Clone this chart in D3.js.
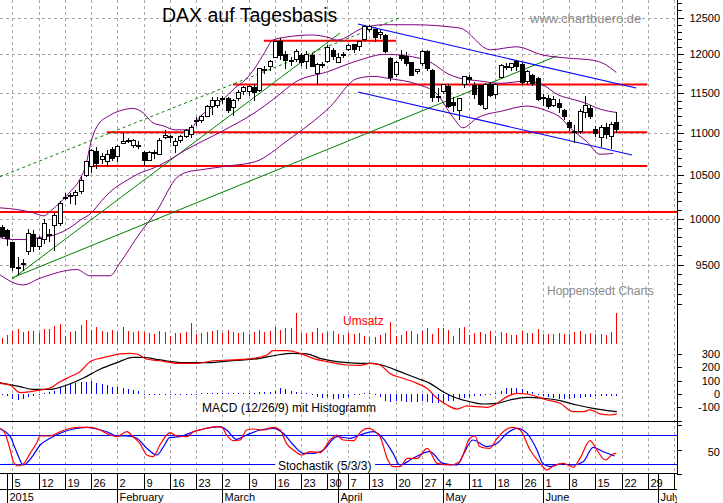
<!DOCTYPE html>
<html><head><meta charset="utf-8"><title>DAX auf Tagesbasis</title>
<script src="https://cdn.jsdelivr.net/npm/d3@7/dist/d3.min.js"></script>
<style>html,body{margin:0;padding:0;background:#fff}svg{display:block}text{font-family:"Liberation Sans",Arial,Helvetica,sans-serif}</style>
</head><body>
<svg id="chart" width="723" height="503"></svg>
<script>
// ---------- DATA (index i: 0 = 2 Jan 2015, -1 = 30 Dec 2014) ----------
const holidays = ['2014-12-31','2015-01-01','2015-04-03','2015-04-06','2015-05-01','2015-05-25'];
const monthNames = ['2015','February','March','April','May','June','July'];
const priceTicks = [9500,10000,10500,11000,11500,12000,12500];
const macdTicks = [-100,0,100,200,300];
const stochTicks = [50];

const open = [9900,9870,9736,9475,9500,9640,9820,9700,9770,9825,
 9920,9950,10240,10250,10265,10300,10495,10590,10770,10680,
 10650,10800,10710,10870,10905,10840,10850,10760,10670,10760,
 10740,10945,10950,10840,10910,10950,10980,11140,11150,11200,
 11330,11335,11420,11430,11310,11430,11510,11510,11570,11530,
 11800,11840,11960,12170,12000,11920,11930,11980,11900,11990,
 11750,11870,11900,12050,11890,11990,12060,12130,12100,12200,
 12330,12330,12260,12250,11950,11730,11990,11970,11890,11770,
 11880,12040,11790,11450,11510,11580,11380,11270,11600,11700,
 11590,11590,11305,11600,11480,11700,11840,11830,11900,11860,
 11640,11720,11680,11420,11430,11340,11360,11270,11130,11020,
 11010,11250,11300,11040,10940,11060,10950,11120];
const high = [9925,9890,9745,9580,9560,9880,9870,9810,9990,9880,
 10060,10200,10290,10290,10320,10480,10660,10800,10830,10760,
 10790,10830,10850,11000,10930,10920,10900,10780,10780,10790,
 10930,11030,10970,10930,10970,11050,11090,11190,11220,11340,
 11450,11450,11460,11450,11420,11530,11580,11600,11610,11820,
 11840,11920,12180,12220,12045,11960,12070,12020,12040,12020,
 11880,11900,12120,12080,12020,12030,12140,12140,12180,12380,
 12390,12340,12330,12270,11970,11910,12060,12030,11900,11810,
 12060,12060,11810,11560,11610,11610,11450,11420,11720,11730,
 11640,11600,11620,11640,11620,11870,11880,11890,11930,11880,
 11790,11740,11700,11480,11470,11460,11420,11290,11150,11100,
 11290,11460,11340,11080,11100,11120,11130,11260];
const low = [9790,9700,9440,9390,9440,9600,9640,9660,9720,9740,
 9650,9920,10210,10160,10150,10280,10470,10520,10560,10630,
 10600,10660,10650,10860,10880,10820,10800,10600,10660,10680,
 10730,10920,10880,10760,10880,10930,10940,11080,11120,11190,
 11220,11300,11350,11240,11200,11400,11470,11460,11400,11510,
 11740,11780,11950,11930,11800,11850,11900,11850,11800,11830,
 11600,11820,11880,11930,11880,11950,12050,12020,12050,12180,
 12300,12170,12200,12020,11650,11700,11910,11850,11710,11740,
 11850,11780,11380,11380,11480,11300,11260,11150,11560,11620,
 11420,11330,11280,11440,11420,11680,11790,11780,11780,11600,
 11600,11590,11400,11330,11290,11320,11240,11150,11020,10880,
 10990,11180,11170,10950,10830,10920,10800,11000];
const close = [9806,9780,9473,9469,9518,9837,9700,9781,9941,9818,
 10032,10167,10242,10257,10299,10435,10649,10790,10630,10710,
 10740,10690,10830,10890,10900,10910,10845,10670,10760,10755,
 10905,10960,10940,10890,10950,11030,11060,11150,11205,11330,
 11400,11405,11430,11280,11395,11504,11560,11585,11500,11806,
 11799,11901,12167,11990,11923,11900,12039,11896,11996,11843,
 11865,11868,12086,11966,11960,12001,12124,12060,12166,12375,
 12380,12228,12300,12034,11689,11891,11950,11875,11720,11800,
 12039,11811,11432,11454,11600,11327,11340,11420,11709,11673,
 11472,11351,11610,11460,11610,11853,11830,11880,11840,11625,
 11771,11621,11413,11436,11328,11419,11310,11197,11065,11001,
 11265,11333,11197,10985,11060,10978,11100,11040];
const volume = [6,9,13,15,12,13,13,11,15,15,18,20,8,12,13,19,24,14,17,13,
 12,14,12,17,13,12,13,12,11,10,13,12,8,11,11,12,21,10,11,12,
 13,14,11,14,12,11,12,10,12,14,12,13,17,14,16,16,31,11,11,12,
 16,11,12,13,10,9,11,10,11,8,7,7,9,11,22,8,9,13,13,10,
 13,16,10,16,16,14,8,16,17,9,11,12,10,13,8,12,11,9,9,13,
 11,11,15,10,10,10,11,10,10,12,13,10,11,10,10,9,12,31];
const histogram = [-4,-15,-38,-45,-38,-23,-15,-5,2,13,
 25,50,68,75,80,88,88,95,83,75,
 68,55,50,45,38,30,20,-5,-8,-10,
 -8,-6,-5,-5,-5,-5,-3,-2,0,3,
 5,8,10,8,8,10,10,10,8,15,
 15,18,25,45,38,25,17,10,4,-8,
 -25,-30,-26,-34,-38,-30,-20,-10,-4,0,
 0,-2,-25,-50,-62,-55,-55,-60,-60,-60,
 -56,-60,-64,-64,-60,-55,-50,-38,-32,-25,
 -17,-13,-8,-4,8,25,45,45,43,38,
 25,13,-5,-15,-23,-30,-38,-38,-38,-30,
 -30,-25,-25,-17,-15,-13,-13,-13];

// Bollinger bands (day index, value)
const bbUpperDays = [-1.34,2,5,7,8.2,10,12,14,15,16,17.1,19.6,22,24,26,27.8,29.7,32,34.5,37,41,43.4,45.3,47.2,49,50.6,53.5,58,61.5,62.8,67.8,71.6,77.3,86.2,92,97,102,106.6,111.6,113.5,116];
const bbUpper = [10120,10100,10065,10030,10080,10175,10300,10460,10610,10890,11075,11215,11280,11300,11240,11120,11085,11035,11035,11215,11405,11560,11660,11820,12020,12190,12235,12260,12220,12190,12355,12400,12400,12355,12060,12100,11990,11950,11920,11880,11760];
const bbMidDays = [-1.34,1,4,6,9,12,14,16,18,20,23,25,28,30,34,41,47,51,55,61,67,72,76,81,84,86,90,94,99,102,105,108,110,113,116];
const bbMid = [9790,9770,9770,9790,9820,9900,9985,10060,10200,10320,10440,10510,10580,10640,10790,11020,11240,11430,11640,11770,11920,12000,11980,11880,11740,11690,11650,11620,11650,11600,11470,11410,11370,11290,11250];
const bbLowerDays = [-1.34,3,6.3,13.3,15.8,19.6,21.5,25.3,28.6,32.4,34.3,36.7,41.9,47.2,53.5,61.5,66.6,69.7,72.9,78,81.9,84.9,86.8,89.5,94.4,99,102.8,105.3,107.2,110.4,112.9,115.4];
const bbLower = [9395,9290,9360,9450,9385,9385,9520,9840,10095,10470,10530,10555,10600,10650,10910,11320,11680,11710,11680,11610,11480,11190,11060,11180,11270,11330,11270,11190,11060,10890,10740,10750];

// MACD (red) and signal (black)
const macdDays = [-1.34,0.56,2.47,4.37,6.27,8.18,10.08,11.99,13.89,15.79,17.7,19.6,21.51,23.41,24.75,26.64,29.12,32.36,36.17,39.21,43.02,46.83,49.5,50.64,53.32,55.79,58.26,60.93,64.73,67.2,69.1,71,72.9,75.4,78.06,79.97,81.87,83.77,85.67,87.58,89.48,91.39,93.29,95.19,97.1,99,100.9,102.8,105.3,107.8,109.7,111,112.9,114.8,116.1];
const macdVals = [80,68,10,17,30,45,92,130,168,243,268,286,301,306,301,261,250,231,231,250,256,268,293,326,326,306,268,243,218,215,231,218,155,118,80,43,-32,-83,-113,-90,-95,-100,-70,-20,5,0,-20,-45,-70,-133,-133,-120,-150,-158,-150];
const signalDays = [-1.34,2.47,4.94,8.18,11.42,14.46,17.7,20.94,23.98,25.88,29.12,33.5,38.07,43.02,48.16,51.4,54.45,57.1,59.59,64.73,67.2,69.68,72.35,74.82,78.06,80.53,83,85.67,88.14,90.62,93.29,95.76,99,102,105.3,108.5,111.6,116.1];
const signalVals = [85,55,35,35,68,118,186,236,276,276,256,236,236,251,268,293,306,301,268,236,231,231,205,168,118,80,17,-32,-58,-75,-70,-45,-25,-32,-50,-83,-108,-133];

// Stochastik %K (red) and %D (blue)
const stochKDays = [-1.3,-0.4,0.6,1.2,2.1,3.1,4.4,5.6,6.3,8.2,10.1,12,13.9,15.8,17.7,19.6,20.9,22.8,24,25.3,26.6,27.8,29.1,30.4,31,32.3,34.2,35.5,37.4,39.9,40.9,41.8,43.1,44.4,45.6,46.9,48.8,50.7,52,53.2,54.5,56.1,57.7,59.6,61.5,62.8,64,66,67.2,68.7,71,72.5,73.5,74.8,76.2,78.1,80,81.9,84.3,86.2,88.1,89.1,90,91.9,93.3,95.2,96.3,97.7,99.6,101.5,102.8,104,105.9,107.8,109.1,111,112.3,113.9,115.4,116];
const stochK = [93.9,83.5,49,24.8,15.9,20,42.1,62.8,77.9,77.9,86.8,93.9,95.9,95.9,90.3,80,76.5,86.8,76.5,62.8,38.6,35.1,59.3,80,84.8,77.9,76.5,86.8,92.4,97.2,95.9,80,68.2,69.7,90.3,92.4,90.3,95.9,90.3,62.8,49,38.6,45.4,43.4,69.7,80,69.7,68.2,85,93.9,76.5,28.3,14.4,14.4,31.8,31.8,52.5,21.4,17.9,24.8,73.2,77.9,55.8,52.5,73.2,92.4,95.9,90.3,49,21.4,7.6,15.9,21.4,13.2,31.8,68.2,49,28.3,40.7,42.1];
const stochDDays = [-1.3,0.6,1.8,3.1,5,6.3,8.2,10.1,12.6,15.2,16.4,19,20.9,22.8,24.7,26.6,28.5,29.8,31,32.9,35.5,38,40.5,41.8,43.7,45.6,48.2,50.7,52.6,54.5,56.4,58.3,60.2,62.8,65.3,67.2,69.7,71.6,73.5,74.8,77.3,80.5,83,85.7,86.8,88.7,91.4,93.3,95.2,97.1,99,100.9,102,103.4,105.3,107.8,109.7,111.6,113.5,115.7];
const stochD = [92.4,76.5,45.4,17.9,38.6,59.3,73.2,83.5,92.4,95.9,93.9,86.8,77.9,77.9,73.2,52.5,38.6,55.8,75,76.5,86.8,93.9,97.2,90.3,71,80,90.3,93.9,83.5,59.3,42.1,42.1,49,76.5,73.2,80,86.8,73.2,42.1,17.9,31.8,45.4,21.4,17.9,38.6,69.7,55.8,62.8,83.5,93.9,83.5,49,21.4,14.4,20,17.9,24.8,54.6,45.4,36.6];

// Support / resistance lines (price, from day, to day)
const redLevels = [12180, 11605, 11005, 10600, 10072];
const redFrom = [48.9, 43, 19, 15.8, -1.4];
const redTo = [74.1, 121.9, 121.9, 121.9, 127.6];
// Trend lines: [day0, price0, day1, price1]
const greenDashed = [-1.34, 10476, 74.8, 12497];
const greenSteep = [0.94, 9350, 63.4, 12287];
const greenFlat = [0.94, 9362, 104.7, 11978];
const blueUpper = [66.8, 12410, 119.8, 11559];
const blueLower = [66.8, 11508, 119.0, 10731];

// ---------- CHART ----------
const svg = d3.select('#chart');
const RIGHT = 677;
const days = [];
{
  const hs = new Set(holidays);
  const d = new Date(Date.UTC(2014, 11, 30)), end = new Date(Date.UTC(2015, 6, 6));
  for (; d <= end; d.setUTCDate(d.getUTCDate() + 1)) {
    const wd = d.getUTCDay(), s = d.toISOString().slice(0, 10);
    if (wd > 0 && wd < 6 && !hs.has(s)) days.push(s);
  }
}
const xS = d3.scaleLinear().domain([-1, 127]).range([1.8, 674.06]);
const xk = k => xS(k - 1);
const yP = d3.scaleLog().domain([9500, 12500]).range([264.8, 17.5]);
const yV = d3.scaleLinear().domain([0, 40]).range([344, 304]);
const yM = d3.scaleLinear().domain([-100, 300]).range([407.3, 354.1]);
const yS = d3.scaleLinear().domain([20, 80]).range([464, 435]);

const defs = svg.append('defs');
function clip(id, x, y, w, h) { defs.append('clipPath').attr('id', id).append('rect').attr('x', x).attr('y', y).attr('width', w).attr('height', h); }
clip('cMain', 0, 0, RIGHT, 345);
clip('cMacd', 0, 345, RIGHT, 77);
clip('cSto', 0, 422, RIGHT, 52);
clip('cAxis', 0, 474, RIGHT, 29);
clip('cAll', 0, 0, RIGHT, 474);

// week / month starts
const weekStarts = [], monthStarts = [];
days.forEach((s, k) => {
  if (k === 0) return;
  const d = new Date(s + 'T00:00:00Z'), p = new Date(days[k - 1] + 'T00:00:00Z');
  const wd = d.getUTCDay(), pwd = p.getUTCDay();
  if (wd <= pwd || (d - p) / 864e5 >= 7) weekStarts.push(k);
  if (d.getUTCMonth() !== p.getUTCMonth()) monthStarts.push(k);
});

// grid
const grid = svg.append('g').attr('clip-path', 'url(#cAll)').attr('stroke', '#a8a8a8').attr('stroke-dasharray', '3,3').attr('shape-rendering', 'crispEdges');
grid.selectAll('line.v').data(weekStarts).join('line').attr('class', 'v')
  .attr('x1', k => Math.round(xk(k)) + 0.5).attr('x2', k => Math.round(xk(k)) + 0.5).attr('y1', 0).attr('y2', 474);
grid.selectAll('line.h').data(priceTicks).join('line').attr('class', 'h')
  .attr('x1', 0).attr('x2', RIGHT).attr('y1', p => Math.round(yP(p)) + 0.5).attr('y2', p => Math.round(yP(p)) + 0.5);

// main panel
const main = svg.append('g').attr('clip-path', 'url(#cMain)');
main.selectAll('line.red').data(redLevels).join('line').attr('class', 'red')
  .attr('x1', (p, j) => xS(redFrom[j])).attr('x2', (p, j) => xS(redTo[j]))
  .attr('y1', p => yP(p)).attr('y2', p => yP(p)).attr('stroke', '#ff0000').attr('stroke-width', 2);
function seg(g, a, color, dash, w) {
  g.append('line').attr('x1', xS(a[0])).attr('y1', yP(a[1])).attr('x2', xS(a[2])).attr('y2', yP(a[3]))
    .attr('stroke', color).attr('stroke-width', w).attr('stroke-dasharray', dash);
}
seg(main, greenDashed, '#008000', '3,3', 1);
seg(main, greenSteep, '#008000', null, 1);
seg(main, greenFlat, '#008000', null, 1);
seg(main, blueUpper, '#0000ff', null, 1.2);
seg(main, blueLower, '#0000ff', null, 1.2);

const bandLine = d3.line().x(d => xS(d[0])).y(d => yP(d[1])).curve(d3.curveMonotoneX);
[[bbUpperDays, bbUpper], [bbMidDays, bbMid], [bbLowerDays, bbLower]].forEach(([dd, vv]) => {
  main.append('path').attr('d', bandLine(dd.map((t, j) => [t, vv[j]])))
    .attr('fill', 'none').attr('stroke', '#800080').attr('stroke-width', 1);
});

// volume
const ks = d3.range(close.length);
main.append('g').selectAll('line').data(ks).join('line')
  .attr('x1', k => Math.round(xk(k)) + 0.5).attr('x2', k => Math.round(xk(k)) + 0.5)
  .attr('y1', yV(0)).attr('y2', k => yV(volume[k]))
  .attr('stroke', '#ff0000').attr('stroke-width', 1.6).attr('shape-rendering', 'crispEdges');

// candles
const cg = main.append('g').attr('shape-rendering', 'crispEdges');
const cs = cg.selectAll('g').data(ks).join('g');
cs.append('line').attr('x1', k => Math.round(xk(k)) + 0.5).attr('x2', k => Math.round(xk(k)) + 0.5)
  .attr('y1', k => yP(high[k])).attr('y2', k => yP(low[k])).attr('stroke', '#000');
cs.append('rect')
  .attr('x', k => Math.round(xk(k)) - 1.5).attr('width', 4)
  .attr('y', k => yP(Math.max(open[k], close[k])))
  .attr('height', k => Math.max(1, yP(Math.min(open[k], close[k])) - yP(Math.max(open[k], close[k]))))
  .attr('fill', k => close[k] >= open[k] ? '#fff' : '#000').attr('stroke', '#000');

// texts in main
svg.append('text').attr('x', 162).attr('y', 22).attr('font-size', 19.5).attr('fill', '#000').text('DAX auf Tagesbasis');
svg.append('text').attr('x', 530).attr('y', 23).attr('font-size', 13).attr('fill', '#8a8a8a').text('www.chartbuero.de');
svg.append('text').attr('x', 547).attr('y', 294.5).attr('font-size', 12).attr('fill', '#8a8a8a').text('Hoppenstedt Charts');
svg.append('text').attr('x', 343).attr('y', 325).attr('font-size', 12).attr('fill', '#ff0000').text('Umsatz');

// MACD panel
const macdG = svg.append('g').attr('clip-path', 'url(#cMacd)');
macdG.append('g').selectAll('line').data(ks).join('line')
  .attr('x1', k => Math.round(xk(k)) + 0.5).attr('x2', k => Math.round(xk(k)) + 0.5)
  .attr('y1', yM(0)).attr('y2', k => { const a = yM(0), b = yM(histogram[k]); return Math.abs(b - a) < 1 ? a + (histogram[k] >= 0 ? -1 : 1) : b; })
  .attr('stroke', '#0000ff').attr('stroke-width', 1.6).attr('shape-rendering', 'crispEdges');
const mLine = d3.line().x(d => xS(d[0])).y(d => yM(d[1])).curve(d3.curveMonotoneX);
macdG.append('path').attr('d', mLine(signalDays.map((t, j) => [t, signalVals[j]]))).attr('fill', 'none').attr('stroke', '#000').attr('stroke-width', 1.2);
macdG.append('path').attr('d', mLine(macdDays.map((t, j) => [t, macdVals[j]]))).attr('fill', 'none').attr('stroke', '#ff0000').attr('stroke-width', 1.2);
svg.append('text').attr('x', 202).attr('y', 412).attr('font-size', 12).attr('fill', '#000').text('MACD (12/26/9) mit Histogramm');

// Stochastic panel
const stoG = svg.append('g').attr('clip-path', 'url(#cSto)');
[80, 20].forEach(v => stoG.append('line').attr('x1', 0).attr('x2', RIGHT).attr('y1', Math.round(yS(v)) + 0.5).attr('y2', Math.round(yS(v)) + 0.5)
  .attr('stroke', '#0000ff').attr('stroke-width', 1).attr('shape-rendering', 'crispEdges'));
const sLine = d3.line().x(d => xS(d[0])).y(d => yS(d[1])).curve(d3.curveMonotoneX);
stoG.append('path').attr('d', sLine(stochDDays.map((t, j) => [t, stochD[j]]))).attr('fill', 'none').attr('stroke', '#0000ff').attr('stroke-width', 1.2);
stoG.append('path').attr('d', sLine(stochKDays.map((t, j) => [t, stochK[j]]))).attr('fill', 'none').attr('stroke', '#ff0000').attr('stroke-width', 1.2);
svg.append('rect').attr('x', 275).attr('y', 458).attr('width', 100).attr('height', 13).attr('fill', '#fff');
svg.append('text').attr('x', 278).attr('y', 469.5).attr('font-size', 12).attr('fill', '#000').text('Stochastik (5/3/3)');

// frame lines
const frame = svg.append('g').attr('stroke', '#000').attr('shape-rendering', 'crispEdges');
[421.5, 473.5, 489.5].forEach(y => frame.append('line').attr('x1', 0).attr('x2', RIGHT).attr('y1', y).attr('y2', y));
frame.append('line').attr('x1', RIGHT + 0.5).attr('x2', RIGHT + 0.5).attr('y1', 0).attr('y2', 474);

// right axis ticks & labels
const minor = d3.range(9100, 12800, 100);
frame.selectAll('line.mt').data(minor).join('line').attr('class', 'mt')
  .attr('x1', RIGHT).attr('x2', p => RIGHT + (p % 500 === 0 ? 7 : 4.5))
  .attr('y1', p => Math.round(yP(p)) + 0.5).attr('y2', p => Math.round(yP(p)) + 0.5);
const axT = svg.append('g').attr('font-size', 11).attr('text-anchor', 'end').attr('fill', '#000');
axT.selectAll('text.p').data(priceTicks).join('text').attr('class', 'p')
  .attr('x', 720).attr('y', p => yP(p) + 4).text(p => String(p));
frame.selectAll('line.m').data(macdTicks.concat([-200])).join('line').attr('class', 'm')
  .attr('x1', RIGHT).attr('x2', RIGHT + 5).attr('y1', v => Math.round(yM(v)) + 0.5).attr('y2', v => Math.round(yM(v)) + 0.5);
axT.selectAll('text.m').data(macdTicks).join('text').attr('class', 'm')
  .attr('x', 720).attr('y', v => yM(v) + 4).text(v => String(v));
frame.selectAll('line.s').data([0, 50, 100]).join('line').attr('class', 's')
  .attr('x1', RIGHT).attr('x2', RIGHT + 5).attr('y1', v => Math.round(yS(v)) + 0.5).attr('y2', v => Math.round(yS(v)) + 0.5);
axT.selectAll('text.s').data(stochTicks).join('text').attr('class', 's')
  .attr('x', 720).attr('y', v => yS(v) + 6).text(v => String(v));

// date axis
const ax = svg.append('g').attr('clip-path', 'url(#cAxis)');
const dayLines = Array.from(new Set(weekStarts.concat(monthStarts))).sort((a, b) => a - b);
ax.selectAll('line.d').data(dayLines).join('line').attr('class', 'd')
  .attr('x1', k => Math.round(xk(k)) + 0.5).attr('x2', k => Math.round(xk(k)) + 0.5).attr('y1', 474).attr('y2', 489)
  .attr('stroke', '#000').attr('shape-rendering', 'crispEdges');
ax.selectAll('text.d').data(weekStarts).join('text').attr('class', 'd')
  .attr('x', k => Math.round(xk(k)) + 2.5).attr('y', 486.5).attr('font-size', 11)
  .text(k => String(+days[k].slice(8, 10)));
ax.selectAll('line.mo').data(monthStarts).join('line').attr('class', 'mo')
  .attr('x1', k => Math.round(xk(k)) + 0.5).attr('x2', k => Math.round(xk(k)) + 0.5).attr('y1', 490).attr('y2', 503)
  .attr('stroke', '#000').attr('shape-rendering', 'crispEdges');
ax.selectAll('text.mo').data(monthStarts).join('text').attr('class', 'mo')
  .attr('x', k => Math.round(xk(k)) + 2.5).attr('y', 501).attr('font-size', 11)
  .text((k, j) => monthNames[j]);
</script>
</body></html>
